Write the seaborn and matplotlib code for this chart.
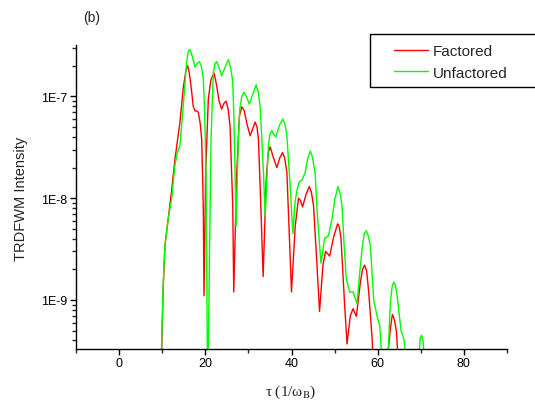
import numpy as np
import pandas as pd
import matplotlib
matplotlib.use("Agg")
import matplotlib.pyplot as plt
import matplotlib.ticker as mticker
from matplotlib.patches import Rectangle
import seaborn as sns

# ---- data ----
tau_unfactored = [9.81, 10.20, 10.63, 11.40, 12.19, 12.95, 13.50, 14.12, 14.88, 15.67,
                  16.05, 16.44, 16.95, 17.60, 18.10, 18.60, 19.05, 19.53, 19.85, 20.16,
                  20.56, 20.93, 21.33, 21.86, 22.25, 22.65, 23.20, 23.81, 24.50, 25.35,
                  25.90, 26.37, 26.65, 26.91, 27.14, 27.67, 28.00, 28.47, 29.00, 29.60,
                  30.23, 31.00, 31.79, 32.30, 32.72, 33.10, 33.49, 33.88, 34.65, 35.00,
                  35.44, 35.90, 36.37, 37.20, 38.00, 38.50, 38.93, 39.60, 40.33, 40.80,
                  41.26, 41.80, 42.42, 43.19, 43.80, 44.35, 44.90, 45.51, 45.90, 46.28,
                  46.84, 47.67, 48.60, 49.40, 50.10, 50.79, 51.30, 51.72, 52.20, 52.72,
                  53.49, 54.28, 55.21, 55.80, 56.37, 56.90, 57.37, 57.85, 58.30, 59.07,
                  59.86, 60.47, 61.02, 62.33, 62.95, 63.35, 63.72, 64.10, 64.51, 65.44,
                  66.05, 66.60, 69.53, 69.85, 70.16, 70.50, 70.93]
int_unfactored = [3.0e-10, 1.3e-9, 3.4e-9, 6.3e-9, 9.8e-9, 2.1e-8, 2.8e-8, 3.3e-8, 8.0e-8, 2.2e-7,
                  2.75e-7, 2.9e-7, 2.5e-7, 1.95e-7, 2.1e-7, 2.2e-7, 2.0e-7, 1.5e-7, 7.0e-8, 1.8e-8,
                  1.0e-10, 1.9e-9, 3.8e-8, 1.7e-7, 2.1e-7, 2.2e-7, 1.9e-7, 1.6e-7, 1.9e-7, 2.3e-7,
                  1.9e-7, 1.4e-7, 6.0e-8, 1.8e-8, 5.3e-9, 3.8e-8, 7.5e-8, 1.0e-7, 1.1e-7, 9.8e-8,
                  8.4e-8, 1.05e-7, 1.3e-7, 1.1e-7, 8.0e-8, 4.0e-8, 1.8e-8, 6.7e-9, 3.3e-8, 4.3e-8,
                  4.6e-8, 4.2e-8, 4.0e-8, 5.2e-8, 6.0e-8, 5.3e-8, 4.1e-8, 1.5e-8, 4.5e-9, 9.0e-9,
                  1.2e-8, 1.45e-8, 1.5e-8, 1.8e-8, 2.5e-8, 2.9e-8, 2.5e-8, 1.7e-8, 8.0e-9, 4.7e-9,
                  2.3e-9, 4.0e-9, 4.3e-9, 6.3e-9, 1.0e-8, 1.3e-8, 1.1e-8, 8.4e-9, 3.5e-9, 1.6e-9,
                  1.2e-9, 1.2e-9, 9.2e-10, 1.8e-9, 3.2e-9, 4.5e-9, 4.8e-9, 4.2e-9, 3.4e-9, 1.0e-9,
                  6.9e-10, 5.6e-10, 2.5e-10, 2.5e-10, 9.6e-10, 1.35e-9, 1.5e-9, 1.4e-9, 1.1e-9, 4.9e-10,
                  4.2e-10, 2.5e-10, 2.5e-10, 4.2e-10, 4.5e-10, 4.0e-10, 2.5e-10]

tau_factored = [9.86, 10.22, 10.63, 11.40, 12.20, 12.95, 14.12, 14.88, 15.50, 15.91,
                16.30, 16.84, 17.20, 17.60, 18.00, 18.37, 18.80, 19.16, 19.53, 19.70,
                20.09, 20.70, 21.30, 22.02, 22.60, 23.20, 23.81, 24.30, 24.81, 25.30,
                25.74, 26.37, 26.60, 27.30, 27.91, 28.47, 29.00, 29.70, 30.40, 31.00,
                31.56, 32.00, 32.33, 32.88, 33.42, 34.12, 34.60, 35.05, 35.80, 36.60,
                37.30, 37.91, 38.40, 38.93, 40.00, 40.86, 41.63, 42.10, 42.56, 43.40,
                44.12, 44.60, 45.12, 45.91, 46.51, 47.30, 47.91, 48.84, 49.80, 50.70,
                51.10, 51.49, 52.26, 52.88, 53.65, 54.28, 55.05, 55.98, 56.50, 56.98,
                57.45, 57.91, 58.70, 58.93, 62.19, 63.00, 63.42, 63.85, 64.35, 64.74]
int_factored = [3.0e-10, 1.3e-9, 3.4e-9, 6.3e-9, 1.2e-8, 2.4e-8, 5.6e-8, 1.2e-7, 1.8e-7, 2.0e-7,
                1.7e-7, 1.1e-7, 8.0e-8, 7.2e-8, 7.2e-8, 7.0e-8, 5.5e-8, 3.8e-8, 8.4e-9, 1.1e-9,
                1.8e-8, 9.4e-8, 1.45e-7, 1.7e-7, 1.3e-7, 9.0e-8, 7.5e-8, 8.5e-8, 9.0e-8, 7.5e-8,
                5.1e-8, 8.4e-9, 1.2e-9, 1.8e-8, 6.4e-8, 7.9e-8, 7.3e-8, 5.3e-8, 4.1e-8, 4.8e-8,
                5.6e-8, 5.0e-8, 3.8e-8, 8.4e-9, 1.7e-9, 1.5e-8, 2.8e-8, 3.2e-8, 2.5e-8, 2.0e-8,
                2.5e-8, 2.8e-8, 2.5e-8, 1.8e-8, 1.2e-9, 5.3e-9, 1.0e-8, 9.5e-9, 8.2e-9, 1.1e-8,
                1.3e-8, 1.15e-8, 8.4e-9, 2.2e-9, 7.7e-10, 2.2e-9, 3.0e-9, 2.7e-9, 4.2e-9, 5.6e-9,
                5.2e-9, 4.0e-9, 1.0e-9, 3.7e-10, 7.0e-10, 8.2e-10, 6.9e-10, 1.5e-9, 2.0e-9, 2.2e-9,
                1.9e-9, 1.2e-9, 4.2e-10, 2.5e-10, 2.5e-10, 5.5e-10, 7.2e-10, 6.5e-10, 4.9e-10, 2.5e-10]

series_names = ["Factored", "Unfactored"]
series_colors = ["#ff0000", "#00ff00"]
x_ticks = [0, 20, 40, 60, 80]
y_ticks = [1e-9, 1e-8, 1e-7]
y_tick_labels = ["1E-9", "1E-8", "1E-7"]

df = pd.concat([
    pd.DataFrame({"tau": tau_factored, "I": int_factored, "series": series_names[0]}),
    pd.DataFrame({"tau": tau_unfactored, "I": int_unfactored, "series": series_names[1]}),
], ignore_index=True)

sns.set_style("ticks")
plt.rcParams["font.family"] = ["Liberation Sans", "DejaVu Sans"]
plt.rcParams["mathtext.fontset"] = "stix"

W, H = 535, 410
fig = plt.figure(figsize=(W / 100, H / 100), dpi=100)
ax = fig.add_axes([76 / W, 1 - 350 / H, (507 - 76) / W, (350 - 46) / H])

sns.lineplot(data=df, x="tau", y="I", hue="series", hue_order=series_names,
             palette=dict(zip(series_names, series_colors)), sort=False,
             estimator=None, linewidth=1.0, ax=ax, legend=False)

ax.set_yscale("log")
ax.set_xlim(-10, 90)
ax.set_ylim(3.3e-10, 3.2e-7)

ax.set_xticks(x_ticks)
ax.xaxis.set_minor_locator(mticker.MultipleLocator(10))
ax.set_yticks(y_ticks)
ax.set_yticklabels(y_tick_labels)
ax.yaxis.set_minor_locator(mticker.LogLocator(base=10, subs=np.arange(2, 10)))
ax.yaxis.set_minor_formatter(mticker.NullFormatter())

for s in ["top", "right"]:
    ax.spines[s].set_visible(False)
for s in ["left", "bottom"]:
    ax.spines[s].set_linewidth(1.0)
    ax.spines[s].set_color("black")

ax.tick_params(axis="both", which="major", direction="out", length=4, width=1,
               labelsize=9, colors="black", pad=2)
ax.tick_params(axis="both", which="minor", direction="out", length=3, width=1)

ax.set_xlabel("")
ax.set_ylabel("")
fig.text(21 / W, 1 - 199 / H, "TRDFWM Intensity", rotation=90, ha="center",
         va="center", fontsize=10.5)
fig.text(291 / W, 1 - 392 / H, r"τ (1/ω$_{\mathrm{B}}$)", ha="center", va="center",
         fontsize=11, family=["Liberation Serif", "DejaVu Serif"])
fig.text(92 / W, 1 - 18 / H, "(b)", ha="center", va="center", fontsize=10)

# legend
handles = [plt.Line2D([], [], color=c, lw=1.0) for c in series_colors]
fig.legend(handles, series_names, loc="upper left",
           bbox_to_anchor=(394 / W, 1 - 45 / H), frameon=False,
           handlelength=2.2, handletextpad=0.35, borderpad=0, borderaxespad=0,
           labelspacing=0.5, fontsize=11)
fig.patches.append(Rectangle((370 / W, 1 - 88 / H), 200 / W, 53 / H,
                             transform=fig.transFigure, fill=False,
                             edgecolor="black", linewidth=1.0))

fig.savefig("out.png", dpi=100)
